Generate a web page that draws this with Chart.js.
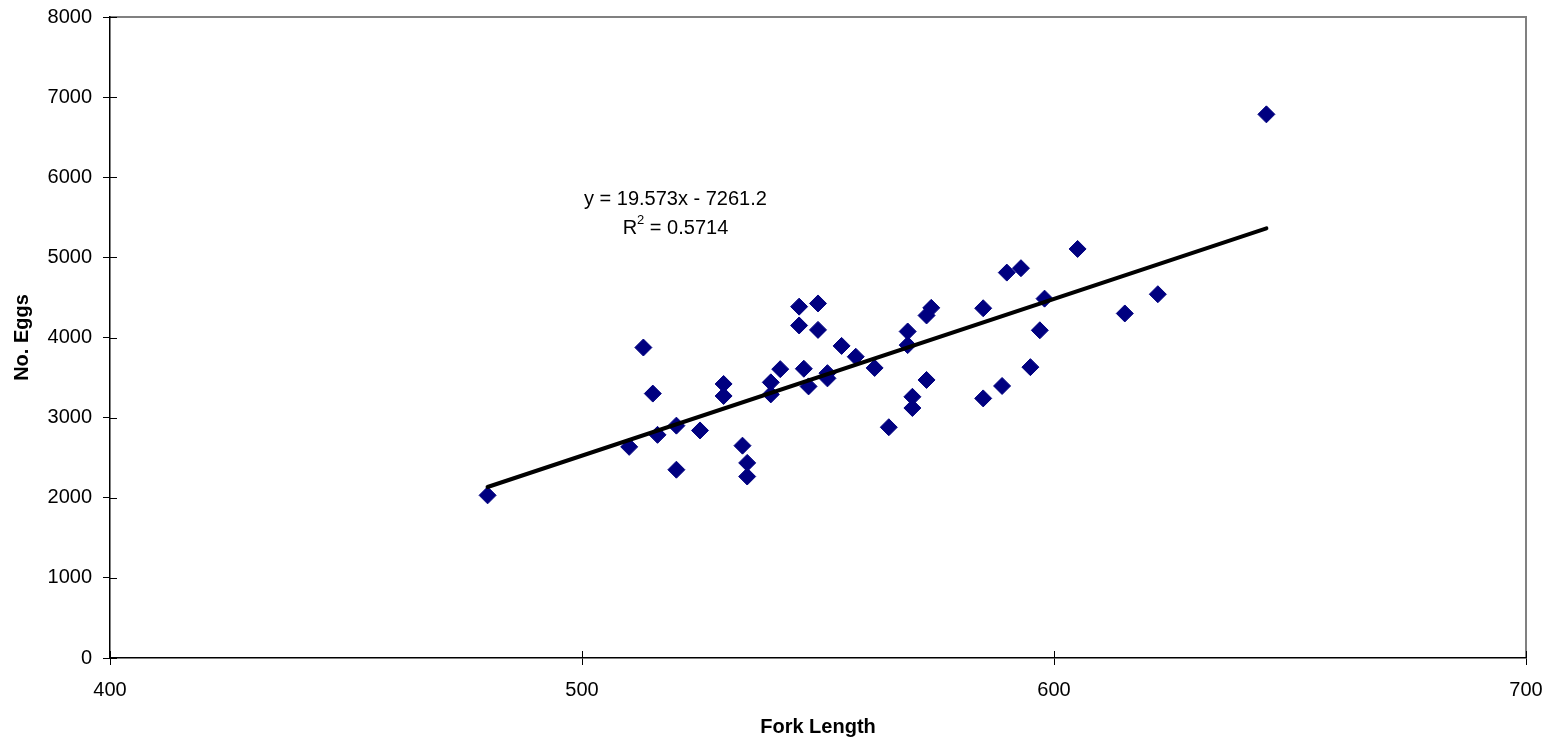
<!DOCTYPE html>
<html>
<head>
<meta charset="utf-8">
<script src="https://cdn.jsdelivr.net/npm/chart.js@4"></script>
<style>
  body { margin: 0; background: #fff; }
  #wrap { width: 1553px; height: 741px; position: relative; }
</style>
</head>
<body>
<div id="wrap"><canvas id="scatterChart"></canvas></div>
<script>
// fork length (x) and egg count (y)
let forkLength = [480, 510, 513, 515, 516, 520, 520, 525, 530, 530, 534, 535, 535, 540, 540, 542,
    546, 546, 547, 548, 550, 550, 552, 552, 555, 558, 562, 565, 569, 569, 570, 570, 573, 573, 574,
    585, 585, 589, 590, 593, 595, 597, 598, 605, 615, 622, 645]
let noEggs = [2030, 2635, 3875, 3300, 2785, 2900, 2350, 2840, 3420, 3270, 2650, 2435, 2265, 3440, 3290, 3605,
    4385, 4150, 3610, 3390, 4425, 4095, 3555, 3490, 3895, 3760, 3620, 2880, 4075, 3905, 3260, 3120, 3470, 4275, 4370,
    4365, 3240, 3395, 4810, 4865, 3630, 4090, 4485, 5105, 4300, 4540, 6785]

// linear trendline end points
let trendX = [480, 645]
let trendY = [2134, 5363]

let xTicks = [400, 500, 600, 700]
let yTicks = [0, 1000, 2000, 3000, 4000, 5000, 6000, 7000, 8000]

let equationText = "y = 19.573x - 7261.2"
let rSquaredText = " = 0.5714"

Chart.defaults.font.family = "'Liberation Sans', Arial, sans-serif"
Chart.defaults.font.size = 20
Chart.defaults.color = '#000'

const scatterPoints = forkLength.map((x, i) => ({ x: x, y: noEggs[i] }))
const trendPoints = trendX.map((x, i) => ({ x: x, y: trendY[i] }))

// gray frame on top and right of the plot area
const framePlugin = {
    id: 'frame',
    beforeDraw(chart) {
        const { ctx, chartArea: a } = chart
        ctx.save()
        ctx.strokeStyle = '#808080'
        ctx.lineWidth = 2
        ctx.beginPath()
        ctx.moveTo(a.left, a.top)
        ctx.lineTo(a.right, a.top)
        ctx.lineTo(a.right, a.bottom)
        ctx.stroke()
        ctx.restore()
    }
}

// tick marks cross the axis, draw the inner half
const innerTicks = {
    id: 'innerTicks',
    afterDraw(chart) {
        const { ctx, chartArea: a, scales } = chart
        ctx.save()
        ctx.strokeStyle = '#000'
        ctx.lineWidth = 1
        ctx.beginPath()
        yTicks.forEach(v => {
            const py = Math.round(scales.y.getPixelForValue(v)) + 0.5
            ctx.moveTo(a.left, py)
            ctx.lineTo(a.left + 7, py)
        })
        xTicks.forEach(v => {
            const px = Math.round(scales.x.getPixelForValue(v)) + 0.5
            ctx.moveTo(px, a.bottom)
            ctx.lineTo(px, a.bottom - 7)
        })
        ctx.stroke()
        ctx.restore()
    }
}

// trendline equation and R squared
const equationPlugin = {
    id: 'equation',
    afterDatasetsDraw(chart) {
        const { ctx, scales } = chart
        const cx = scales.x.getPixelForValue(519.8)
        const y1 = scales.y.getPixelForValue(5718)
        const y2 = scales.y.getPixelForValue(5356)
        ctx.save()
        ctx.fillStyle = '#000'
        ctx.textBaseline = 'middle'
        ctx.font = "20px 'Liberation Sans', Arial, sans-serif"
        ctx.textAlign = 'center'
        ctx.fillText(equationText, cx, y1)

        ctx.textAlign = 'left'
        const wR = ctx.measureText('R').width
        const wRest = ctx.measureText(rSquaredText).width
        ctx.font = "13px 'Liberation Sans', Arial, sans-serif"
        const w2 = ctx.measureText('2').width
        let sx = cx - (wR + w2 + wRest) / 2
        ctx.font = "20px 'Liberation Sans', Arial, sans-serif"
        ctx.fillText('R', sx, y2)
        ctx.font = "13px 'Liberation Sans', Arial, sans-serif"
        ctx.fillText('2', sx + wR, y2 - 8)
        ctx.font = "20px 'Liberation Sans', Arial, sans-serif"
        ctx.fillText(rSquaredText, sx + wR + w2, y2)
        ctx.restore()
    }
}

let ctx = document.getElementById('scatterChart').getContext('2d')
let myChart = new Chart(ctx, {
    type: 'scatter',
    data: {
        datasets: [{
            label: 'No. Eggs',
            data: scatterPoints,
            pointStyle: 'rectRot',
            pointRadius: 8.5,
            pointHoverRadius: 8.5,
            backgroundColor: '#000080',
            borderColor: '#000080',
            borderWidth: 1,
            order: 1
        },
        {
            type: 'line',
            label: 'Linear',
            data: trendPoints,
            borderColor: '#000',
            borderWidth: 4,
            borderCapStyle: 'round',
            pointRadius: 0,
            fill: false,
            order: 0
        }]
    },
    options: {
        responsive: true,
        maintainAspectRatio: false,
        animation: false,
        events: [],
        layout: { padding: { top: 17, right: 27, left: 0, bottom: 0 } },
        plugins: {
            legend: { display: false },
            tooltip: { enabled: false }
        },
        scales: {
            x: {
                type: 'linear',
                min: 400,
                max: 700,
                afterBuildTicks: (scale) => { scale.ticks = xTicks.map(v => ({ value: v })) },
                afterFit: (scale) => {
                    scale.height = 83
                    scale.paddingLeft = 0
                    scale.paddingRight = 0
                },
                grid: { drawOnChartArea: false, tickLength: 7, color: '#000', tickColor: '#000' },
                border: { display: true, color: '#000', width: 1.5 },
                ticks: { padding: 13, maxRotation: 0, callback: (v) => String(v) },
                title: {
                    display: true,
                    text: 'Fork Length',
                    font: { weight: 'bold', size: 20 },
                    padding: { top: 2, bottom: 2 }
                }
            },
            y: {
                type: 'linear',
                min: 0,
                max: 8000,
                afterBuildTicks: (scale) => { scale.ticks = yTicks.map(v => ({ value: v })) },
                afterFit: (scale) => {
                    scale.width = 110
                    scale.paddingTop = 0
                    scale.paddingBottom = 0
                },
                grid: { drawOnChartArea: false, tickLength: 7, color: '#000', tickColor: '#000' },
                border: { display: true, color: '#000', width: 1.5 },
                ticks: { padding: 11, callback: (v) => String(v) },
                title: {
                    display: true,
                    text: 'No. Eggs',
                    font: { weight: 'bold', size: 20 },
                    padding: { top: 10, bottom: 2 }
                }
            }
        }
    },
    plugins: [framePlugin, innerTicks, equationPlugin]
})
</script>
</body>
</html>
